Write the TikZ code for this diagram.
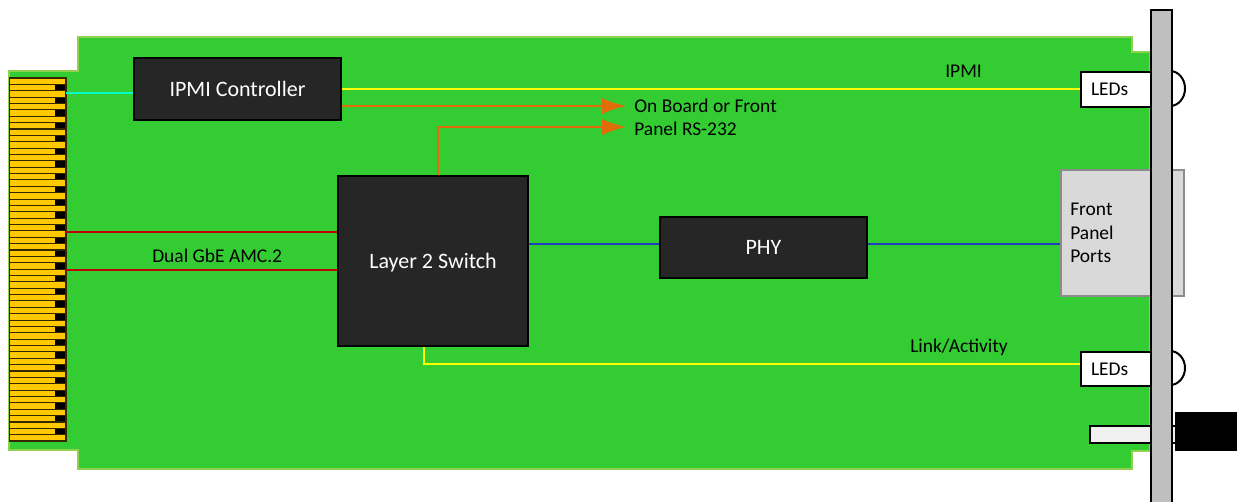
\documentclass[tikz,border=0pt]{standalone}
\usepackage{fontspec}
\setmainfont{Carlito}
\usetikzlibrary{arrows.meta}
\definecolor{boardgreen}{HTML}{33CC33}
\definecolor{boardedge}{HTML}{92D050}
\definecolor{gold}{HTML}{FFC800}
\definecolor{chip}{HTML}{262626}
\definecolor{panelgray}{HTML}{BFBFBF}
\definecolor{portgray}{HTML}{D9D9D9}
\definecolor{portedge}{HTML}{8C8C8C}
\definecolor{wireorange}{HTML}{E36C0A}
\definecolor{wirered}{HTML}{C00000}
\definecolor{wireblue}{HTML}{1F3FC0}
\definecolor{wireyellow}{HTML}{FFFF00}
\definecolor{wirecyan}{HTML}{00FFCC}
\tikzset{
  chipbox/.style={draw=black,line width=1.5pt,fill=chip,text=white,font=\fontsize{16.5}{20}\selectfont,inner sep=0pt,anchor=north west},
  ledbox/.style={draw=black,line width=1.5pt,fill=white,font=\fontsize{14.6}{17}\selectfont,inner sep=0pt,anchor=north west},
  wire/.style={line width=1.5pt},
  label/.style={font=\fontsize{14.6}{17}\selectfont,inner sep=0pt,text=black},
  orangearrow/.style={wire,wireorange,-{Latex[length=18pt,width=12pt]}},
}
\begin{document}
\begin{tikzpicture}[x=0.75pt,y=-0.75pt]
\useasboundingbox (0,0) rectangle (1237,501);
% board
\draw[fill=boardgreen,draw=boardedge,line width=1.5pt]
  (1150,52) -- (1132,52) -- (1132,37) -- (78,37) -- (78,71) -- (9,71) -- (9,450) -- (78,450) -- (78,469) -- (1132,469) -- (1132,451) -- (1150,451) -- cycle;
% edge connector
\node[draw=none,fill=gold,minimum width=42pt,minimum height=272pt,inner sep=0pt,anchor=north west] (edge) at (9.5,78) {};
\foreach \k in {0,...,27}{
  \pgfmathsetmacro{\ya}{78+12.74*\k+6.37}
  \pgfmathsetmacro{\yb}{\ya+6.37}
  \fill[black] (55,\ya) rectangle (65.5,\yb);
  \draw[black!80!gold,line width=0.8pt] (9.5,\ya) -- (65.5,\ya);
  \draw[black!80!gold,line width=0.8pt] (9.5,\yb) -- (65.5,\yb);
}
\draw[black!80!gold,line width=1.2pt] (edge.north west) rectangle (edge.south east);
% chips
\node[chipbox,minimum width=155.25pt,minimum height=46.5pt,text depth=0pt,yshift=0pt] (ipmi) at (133,57) {IPMI Controller};
\node[chipbox,minimum width=142.5pt,minimum height=127.5pt] (sw) at (337,175) {};
\node[chipbox,minimum width=155.25pt,minimum height=45.75pt] (phy) at (659,216) {};
\node[font=\fontsize{16.5}{20}\selectfont,text=white,inner sep=0pt] (swtext) at ([yshift=-1pt]sw.center) {Layer 2 Switch};
\node[font=\fontsize{16.5}{20}\selectfont,text=white,inner sep=0pt] (phytext) at (phy.center) {PHY};
% front panel items behind the faceplate
\node[draw=portedge,line width=1.5pt,fill=portgray,minimum width=92.5pt,minimum height=94.5pt,inner sep=0pt,anchor=north west] (ports) at (1060,169) {};
\node[ledbox,minimum width=52.5pt,minimum height=26.25pt,text width=52.5pt,align=left] (led1) at (1080,71) {\hspace*{7.5pt}LEDs};
\node[ledbox,minimum width=52.5pt,minimum height=25.5pt,text width=52.5pt,align=left] (led2) at (1080,351) {\hspace*{7.5pt}LEDs};
\draw[black,line width=1.5pt] (1170,71) arc[start angle=-90,end angle=90,x radius=15,y radius=17.5];
\draw[black,line width=1.5pt] (1170,351) arc[start angle=-90,end angle=90,x radius=15,y radius=17];
\node[draw=black,line width=1.5pt,fill=black!6,minimum width=64.5pt,minimum height=12.75pt,inner sep=0pt,anchor=north west] (latch) at (1089,425) {};
\node[draw=none,fill=black,minimum width=46.5pt,minimum height=29.25pt,inner sep=0pt,anchor=north west] (handle) at (1175,412) {};
% faceplate
\node[draw=black,line width=1.5pt,fill=panelgray,minimum width=15.75pt,minimum height=380pt,inner sep=0pt,anchor=north west] (plate) at (1150,9) {};
% wires
\draw[wire,wirecyan] (edge.east |- 0,93) -- (ipmi.west |- 0,93);
\draw[wire,wireyellow] (ipmi.east |- 0,89) -- (led1.west |- 0,89);
\coordinate (tipa) at (626,106);
\coordinate (tipb) at (626,127);
\coordinate (upb) at (438,127);
\draw[orangearrow] (ipmi.east |- tipa) -- (tipa);
\draw[orangearrow] (upb |- sw.north) -- (upb) -- (tipb);
\draw[wire,wirered] (edge.east |- 0,232) -- (sw.west |- 0,232);
\draw[wire,wirered] (edge.east |- 0,270) -- (sw.west |- 0,270);
\draw[wire,wireblue] (sw.east |- 0,244) -- (phy.west |- 0,244);
\draw[wire,wireblue] (phy.east |- 0,244) -- (ports.west |- 0,244);
\coordinate (downl) at (424,364);
\draw[wire,wireyellow] (downl |- sw.south) -- (downl) -- (led2.west |- downl);
% labels
\node[label,anchor=west] (l1) at (945,71) {IPMI};
\node[label,anchor=west] (l2) at (634,105.5) {On Board or Front};
\node[label,anchor=west] (l3) at (634,128.5) {Panel RS-232};
\node[label,anchor=west] (l4) at (152,255.5) {Dual GbE AMC.2};
\node[label,anchor=west] (l5) at (910,347.5) {Link/Activity};
\node[label,anchor=west,align=left,font=\fontsize{14.6}{17.5}\selectfont] (l6) at (1070,233) {Front\\Panel\\Ports};
\end{tikzpicture}
\end{document}
